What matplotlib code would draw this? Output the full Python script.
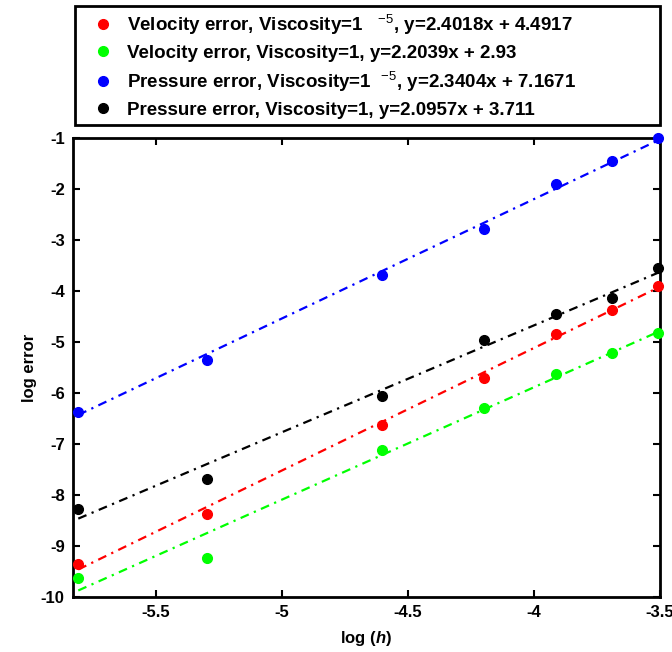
import numpy as np
import matplotlib
matplotlib.use("Agg")
import matplotlib.pyplot as plt

plt.rcParams['font.family'] = ['Liberation Sans', 'DejaVu Sans']
plt.rcParams['mathtext.fontset'] = 'custom'
plt.rcParams['mathtext.rm'] = 'Liberation Sans'
plt.rcParams['mathtext.it'] = 'Liberation Sans:italic:bold'
plt.rcParams['mathtext.bf'] = 'Liberation Sans:bold'

# log of mesh size h
log_h = [-5.809, -5.298, -4.605, -4.200, -3.912, -3.689, -3.507]

# log of errors
vel_visc_small = [-9.36, -8.38, -6.62, -5.70, -4.85, -4.37, -3.89]
vel_visc_one = [-9.62, -9.23, -7.11, -6.29, -5.63, -5.22, -4.83]
pres_visc_small = [-6.37, -5.35, -3.68, -2.79, -1.89, -1.45, -1.00]
pres_visc_one = [-8.28, -7.69, -6.06, -4.96, -4.45, -4.14, -3.55]

# linear fits given in the legend
slopes = [2.4018, 2.2039, 2.3404, 2.0957]
intercepts = [4.4917, 2.93, 7.1671, 3.711]

labels = [
    r'Velocity error, Viscosity=1   $^{-5}$, y=2.4018x + 4.4917',
    'Velocity error, Viscosity=1, y=2.2039x + 2.93',
    r'Pressure error, Viscosity=1  $^{-5}$, y=2.3404x + 7.1671',
    'Pressure error, Viscosity=1, y=2.0957x + 3.711',
]
colors = ['#ff0000', '#00ff00', '#0000ff', '#000000']
series = [vel_visc_small, vel_visc_one, pres_visc_small, pres_visc_one]

fig = plt.figure(figsize=(6.72, 6.52), dpi=100)
ax = fig.add_axes([0.1086, 0.0844, 0.8734, 0.7036])

x = np.array(log_h)
for err, a, b, c, lab in zip(series, slopes, intercepts, colors, labels):
    ax.plot(x, a * x + b, color=c, lw=1.6, linestyle=(0, (4, 2.5, 1, 2.5)))
    ax.plot(x, err, 'o', color=c, ms=7, label=lab, clip_on=False, zorder=3)

ax.set_xlim(-5.83, -3.5)
ax.set_ylim(-10, -1)
ax.set_xticks([-5.5, -5, -4.5, -4, -3.5])
ax.set_xticklabels(['-5.5', '-5', '-4.5', '-4', '-3.5'])
ax.set_yticks(range(-10, 0))
ax.set_yticklabels([str(v) for v in range(-10, 0)])
ax.tick_params(direction='in', top=True, right=True, length=5, width=1.5,
               labelsize=12, pad=6)
for lab in ax.get_xticklabels() + ax.get_yticklabels():
    lab.set_fontweight('bold')
for sp in ax.spines.values():
    sp.set_linewidth(2)

ax.set_xlabel(r'log ($\mathit{h}$)', fontsize=12, fontweight='bold', labelpad=6)
ax.set_ylabel('log error', fontsize=12, fontweight='bold', labelpad=3)

leg = ax.legend(loc='lower left', bbox_to_anchor=(0.004, 1.028, 0.996, 0.26),
                mode='expand', borderaxespad=0, numpoints=1, fancybox=False,
                edgecolor='black', framealpha=1, handlelength=2.2,
                handletextpad=0.2, borderpad=0.35, labelspacing=0.42,
                prop={'weight': 'bold', 'size': 13.5})
leg.get_frame().set_linewidth(2)

fig.savefig('out.png', dpi=100)
